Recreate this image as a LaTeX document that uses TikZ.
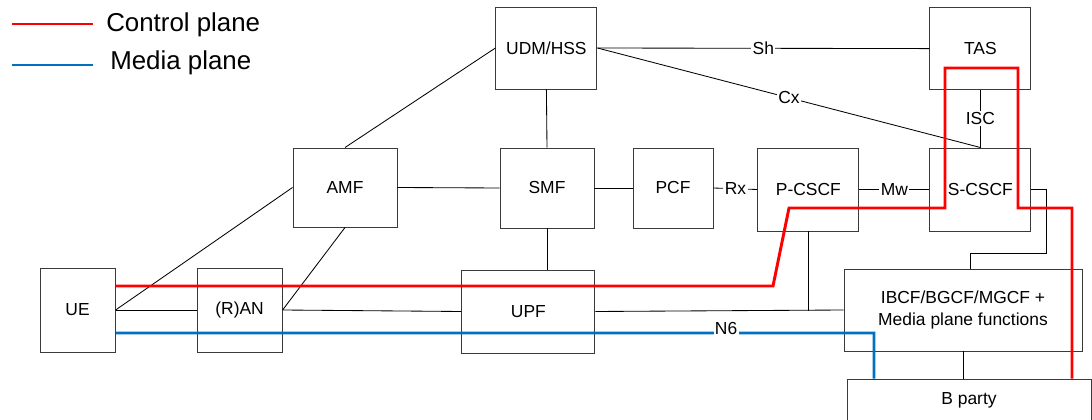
\documentclass[tikz,border=0pt]{standalone}
\usepackage{fontspec}
\setmainfont{Liberation Sans}
\usetikzlibrary{positioning, calc}
\definecolor{ctrlred}{HTML}{FF0000}
\definecolor{mediablue}{HTML}{0070C0}
\definecolor{edgegray}{HTML}{3A3A3A}

\begin{document}
\begin{tikzpicture}[
  nf/.style={draw=edgegray, line width=0.7pt, inner sep=0pt, align=center, font=\fontsize{12.4}{15}\selectfont},
  lbl/.style={fill=white, inner sep=1pt, font=\fontsize{12.4}{15}\selectfont},
  link/.style={draw=black, line width=0.6pt},
  ctrl/.style={draw=ctrlred, line width=2.1pt},
  media/.style={draw=mediablue, line width=2.1pt},
]
  \useasboundingbox (0,0) rectangle (27.3,10.475);

  % legend
  \node[anchor=west, inner sep=0pt, font=\fontsize{18.4}{22}\selectfont] (ctrltxt) at (2.65, 9.85) {Control plane};
  \node[anchor=west, inner sep=0pt, font=\fontsize{18.4}{22}\selectfont] (mediatxt) at (2.75, 8.9) {Media plane};
  \coordinate (ctrlstart) at (0.3, 9.875);
  \coordinate (mediastart) at (0.3, 8.85);
  \draw[ctrl] (ctrlstart) -- (2.325, 9.875);
  \draw[media] (mediastart) -- (2.325, 8.85);

  % network functions
  \node[nf, minimum width=2.525cm, minimum height=2.05cm] (udm) at (13.66, 9.275) {UDM/HSS};
  \node[nf, minimum width=2.525cm, minimum height=2.05cm] (tas) at (24.51, 9.26) {TAS};
  \node[nf, minimum width=2.6cm, minimum height=1.975cm] (amf) at (8.625, 5.7875) {AMF};
  \node[nf, minimum width=2.35cm, minimum height=2cm] (smf) at (13.675, 5.775) {SMF};
  \node[nf, minimum width=2cm, minimum height=2cm] (pcf) at (16.825, 5.775) {PCF};
  \node[nf, minimum width=2.525cm, minimum height=2.075cm] (pcscf) at (20.21, 5.7375) {P-CSCF};
  \node[nf, minimum width=2.525cm, minimum height=2.075cm] (scscf) at (24.51, 5.7375) {S-CSCF};
  \node[nf, minimum width=1.875cm, minimum height=2.1cm] (ue) at (1.94, 2.725) {UE};
  \node[nf, minimum width=2.125cm, minimum height=2.1cm] (ran) at (5.99, 2.725) {(R)AN};
  \node[nf, minimum width=3.325cm, minimum height=2.075cm] (upf) at (13.21, 2.6875) {UPF};
  \node[nf, minimum width=5.95cm, minimum height=2.05cm] (ibcf) at (24.075, 2.725) {IBCF/BGCF/MGCF +\\Media plane functions};
  \node[nf, minimum width=6.1cm, minimum height=1.05cm] (bparty) at (24.225, 0.475) {B party};

  % interfaces
  \draw[link] (udm.west) -- (amf.north);
  \draw[link] (udm.south) -- (smf.north);
  \draw[link] (udm.east) -- node[lbl] {Sh} (tas.west);
  \draw[link] (udm.east) -- node[lbl] {Cx} (scscf.north);
  \draw[link] (tas.south) -- node[lbl] {ISC} (scscf.north);
  \draw[link] (amf.east) -- (smf.west);
  \draw[link] (smf.east) -- (pcf.west);
  \draw[link] (pcf.east) -- node[lbl] {Rx} (pcscf.west);
  \draw[link] (pcscf.east) -- node[lbl] {Mw} (scscf.west);
  \draw[link] (scscf.east) -- ++(0.375,0) |- ($(ibcf.north)+(0.175,0.375)$) -- ([xshift=0.175cm]ibcf.north);
  \draw[link] (smf.south) -- (smf.south |- upf.north);
  \draw[link] (ue.east) -- (amf.west);
  \draw[link] (ue.east) -- (ran.west);
  \draw[link] (ran.east) -- (amf.south);
  \draw[link] (ran.east) -- (upf.west);
  \draw[link] (upf.east) -- (ibcf.west);
  \draw[link] (pcscf.south) -- (pcscf.south |- upf.east);
  \draw[link] (ibcf.south) -- (ibcf.south |- bparty.north);

  % control and media planes
  \coordinate (ctrlturn) at (26.8,5.275);
  \coordinate (mediaturn) at (21.85,2.15);
  \draw[ctrl] ([yshift=0.6cm]ue.east) -- (19.325,3.325) -- (19.725,5.275) -- (23.625,5.275)
    -- (23.625,8.775) -- (25.45,8.775) -- (25.45,5.275) -- (ctrlturn) -- (ctrlturn |- bparty.north);
  \draw[media] ([yshift=-0.575cm]ue.east) -- node[lbl, pos=0.805, anchor=south, yshift=-0.12cm] {N6} (mediaturn)
    -- (mediaturn |- bparty.north);

\end{tikzpicture}
\end{document}
